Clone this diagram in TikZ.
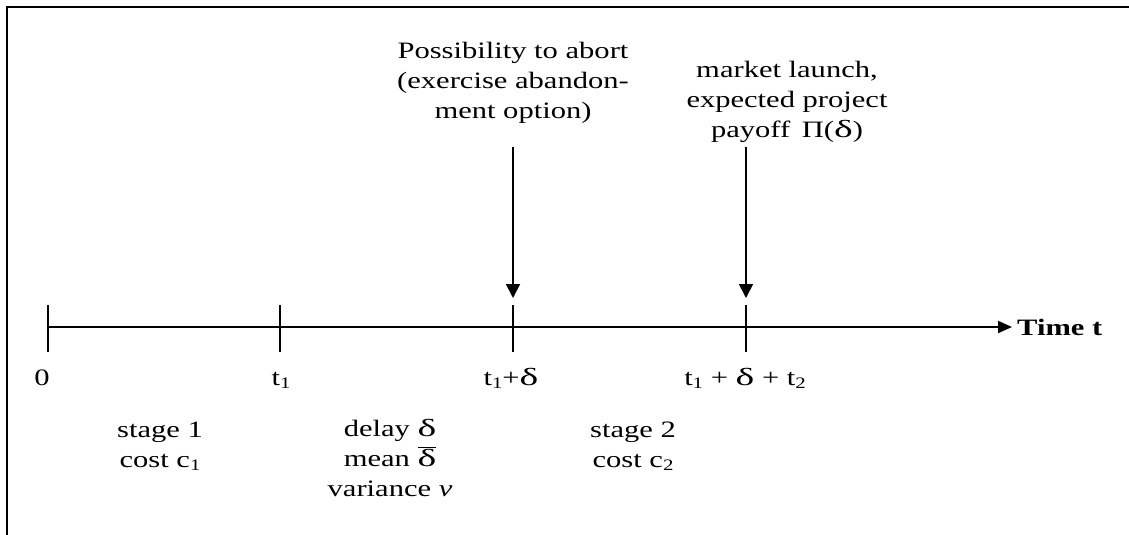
\documentclass[tikz,border=0pt]{standalone}
\usepackage{fontspec}
\usepackage{graphicx}
\setmainfont{Liberation Serif}[FakeStretch=1.3]
\usetikzlibrary{arrows.meta}
\newcommand{\dlt}{\scalebox{1.3}[1.05]{δ}}
\newcommand{\sbs}[1]{\raisebox{-0.28ex}{\fontsize{16}{16}\selectfont #1}}
\begin{document}
\begin{tikzpicture}[x=1pt,y=-1pt,
  txt/.style={inner sep=0pt,align=center,font=\fontsize{23.5}{30}\selectfont},
  lbl/.style={txt,anchor=base},
  axisline/.style={line width=2pt},
  tickline/.style={line width=1.8pt},
  pointer/.style={line width=1.8pt,-{Triangle[width=14pt,length=14pt]}},
  frameline/.style={line width=2pt}]
\useasboundingbox (0,0) rectangle (1129,535);
% frame (top and left)
\coordinate (FTL) at (7,7.5);
\coordinate (FTR) at (1129,7.5);
\coordinate (FBL) at (7,535);
\draw[frameline] (FTR) -- (FTL) -- (FBL);
% axis
\coordinate (A0) at (48,327);
\coordinate (AE) at (1012,327);
\draw[axisline,-{Triangle[width=12pt,length=14pt]}] (A0) -- (AE);
\node[txt,anchor=west,font=\fontsize{23.5}{30}\selectfont\bfseries] (time) at (1017,327) {Time t};
% ticks
\foreach \n/\x in {k0/48,k1/280,k2/513,k3/746}{
  \coordinate (\n top) at (\x,305);
  \coordinate (\n bot) at (\x,352);
  \draw[tickline] (\n top) -- (\n bot);
}
% tick labels
\node[lbl] (l0) at (42,385) {0};
\node[lbl] (l1) at (281,385) {t\sbs{1}};
\node[lbl] (l2) at (511,385) {t\sbs{1}+\dlt};
\node[lbl] (l3) at (745,385) {t\sbs{1} + \dlt{} + t\sbs{2}};
% top texts (anchor = baseline of last line)
\node[lbl] (abort) at (513,118) {Possibility to abort\\(exercise abandon-\\ment option)};
\node[lbl] (launch) at (787,137) {market launch,\\expected project\\payoff\, Π(\dlt)};
% arrows
\coordinate (p1s) at (513,147);
\coordinate (p1e) at (513,298);
\coordinate (p2s) at (746,147);
\coordinate (p2e) at (746,298);
\draw[pointer] (p1s) -- (p1e);
\draw[pointer] (p2s) -- (p2e);
% bottom texts (anchor = baseline of last line)
\node[lbl] (stage1) at (160,467) {stage 1\\cost c\sbs{1}};
\node[lbl] (delay) at (390,496) {delay \dlt\\mean $\overline{\hbox{\dlt}}$\\variance \textit{v}};
\node[lbl] (stage2) at (633,467) {stage 2\\cost c\sbs{2}};
\end{tikzpicture}
\end{document}
